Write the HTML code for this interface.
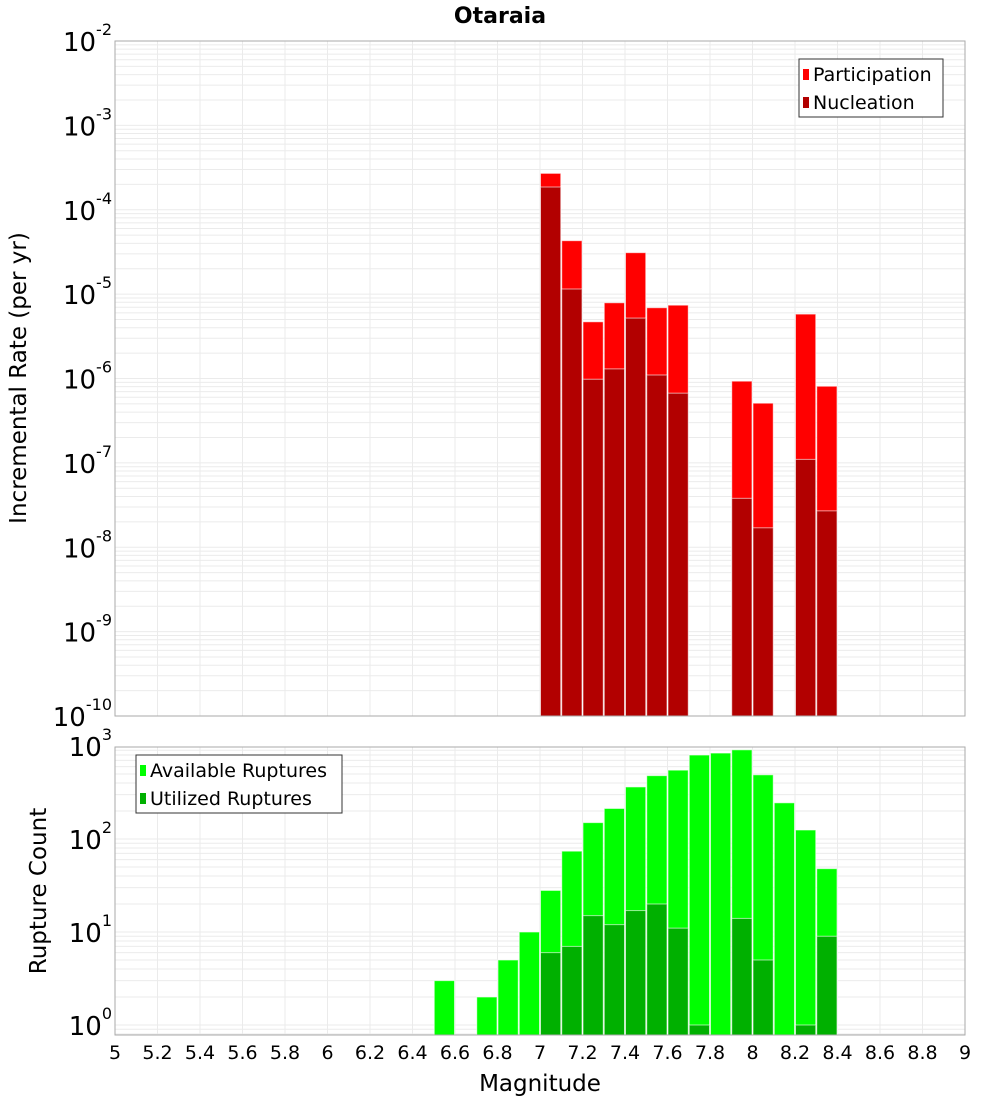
<!DOCTYPE html>
<html><head><meta charset="utf-8"><style>
body{margin:0;background:#fff;}
svg{display:block;font-family:"DejaVu Sans","Liberation Sans",sans-serif;}
</style></head><body>
<svg id="chart" width="1000" height="1100" viewBox="0 0 1000 1100" xmlns="http://www.w3.org/2000/svg">
<text x="500" y="23" text-anchor="middle" font-size="22" font-weight="bold">Otaraia</text>
<g id="gtop"></g>
<g id="gbot"></g>
<text transform="translate(26,378) rotate(-90)" text-anchor="middle" font-size="23">Incremental Rate (per yr)</text>
<text transform="translate(46,891) rotate(-90)" text-anchor="middle" font-size="23">Rupture Count</text>
<text x="540" y="1091" text-anchor="middle" font-size="23">Magnitude</text>
</svg>
<script>
const mags = [7.05,7.15,7.25,7.35,7.45,7.55,7.65,7.95,8.05,8.25,8.35];
const participation = [2.7e-4,4.3e-5,4.7e-6,7.9e-6,3.1e-5,6.9e-6,7.4e-6,9.3e-7,5.1e-7,5.8e-6,8.1e-7];
const nucleation = [1.86e-4,1.15e-5,9.8e-7,1.3e-6,5.2e-6,1.1e-6,6.7e-7,3.8e-8,1.7e-8,1.1e-7,2.7e-8];
const countMags = [6.55,6.75,6.85,6.95,7.05,7.15,7.25,7.35,7.45,7.55,7.65,7.75,7.85,7.95,8.05,8.15,8.25,8.35];
const available = [3,2,5,10,28,74,150,213,363,480,550,800,840,910,490,245,125,48];
const utilized = [0,0,0,0,6,7,15,12,17,20,11,1,0,14,5,0,1,9];
const xTicks = [5,5.2,5.4,5.6,5.8,6,6.2,6.4,6.6,6.8,7,7.2,7.4,7.6,7.8,8,8.2,8.4,8.6,8.8,9];

const NS="http://www.w3.org/2000/svg";
const L=115,R=965;
const xs=v=>L+(v-5)*(R-L)/4;
const T1=41,B1=716, yTop=v=>B1-(Math.log10(v)+10)*(B1-T1)/8;
const T2=747,B2=1035, yBot=v=>1025-Math.log10(v)*93;
function mk(parent,tag,attrs){const e=document.createElementNS(NS,tag);for(const k in attrs)e.setAttribute(k,attrs[k]);parent.appendChild(e);return e;}
const gTop=document.getElementById('gtop'), gBot=document.getElementById('gbot');

function grid(g,T,B,decs,yf){
  for(let d of decs){for(let m=1;m<10;m++){const y=yf(m*Math.pow(10,d));if(y<T||y>B)continue;
    const l=mk(g,'line',{x1:L,x2:R,y1:y,y2:y,stroke:'#ebebeb','stroke-width':1});
    
    }}
  for(const t of xTicks){const x=xs(t);
    const l=mk(g,'line',{x1:x,x2:x,y1:T,y2:B,stroke:'#ebebeb','stroke-width':1});
    
    }
}
grid(gTop,T1,B1,[-10,-9,-8,-7,-6,-5,-4,-3,-2],yTop);
grid(gBot,T2,B2,[-1,0,1,2,3],yBot);

const bw=(R-L)/40;
function bars(g,ms,vals,yf,base,color,name){
  ms.forEach((m,i)=>{if(!vals[i])return;const x=xs(m)-bw/2;const y=yf(vals[i]);
    const r=mk(g,'rect',{x:x+0.5,y:y,width:bw-1,height:base-y,fill:color,stroke:'#ffffff','stroke-opacity':0.6,'stroke-width':1});
    
    });
}
bars(gTop,mags,participation,yTop,B1,'#ff0000','participation-bar');
bars(gTop,mags,nucleation,yTop,B1,'#b20000','nucleation-bar');
bars(gBot,countMags,available,yBot,B2,'#00ff00','available-bar');
bars(gBot,countMags,utilized,yBot,B2,'#00b000','utilized-bar');

mk(gTop,'rect',{x:L,y:T1,width:R-L,height:B1-T1,fill:'none',stroke:'#aaaaaa'});
mk(gBot,'rect',{x:L,y:T2,width:R-L,height:B2-T2,fill:'none',stroke:'#aaaaaa'});

function ylab(g,exp,y){
  const t=mk(g,'text',{x:112,y:y+10,'text-anchor':'end','font-size':26});
  
  
  const a=document.createElementNS(NS,'tspan');a.textContent='10';t.appendChild(a);
  const b=document.createElementNS(NS,'tspan');b.setAttribute('font-size','16');b.setAttribute('dy','-16');b.textContent=String(exp);t.appendChild(b);
}
for(let d=-10;d<=-2;d++)ylab(gTop,d,yTop(Math.pow(10,d)));
for(let d=0;d<=3;d++)ylab(gBot,d,yBot(Math.pow(10,d)));
xTicks.forEach(t=>{const e=mk(gBot,'text',{x:xs(t),y:1059,'text-anchor':'middle','font-size':19});
  
  
  e.textContent=String(t);});

function legend(g,x,y,w,items){
  const box=mk(g,'rect',{x:x,y:y,width:w,height:58,fill:'#fff',stroke:'#333','stroke-width':1});
  
  
  items.forEach((it,i)=>{const cy=y+15+i*28;
    mk(g,'rect',{x:x+4,y:cy-5,width:6,height:11,fill:it[1]});
    const t=mk(g,'text',{x:x+14,y:cy+7,'font-size':19});
    
    
    t.textContent=it[0];});
}
legend(gTop,799,59,144,[['Participation','#ff0000'],['Nucleation','#b20000']]);
legend(gBot,136,755,206,[['Available Ruptures','#00ff00'],['Utilized Ruptures','#00b000']]);
</script>
</body></html>
